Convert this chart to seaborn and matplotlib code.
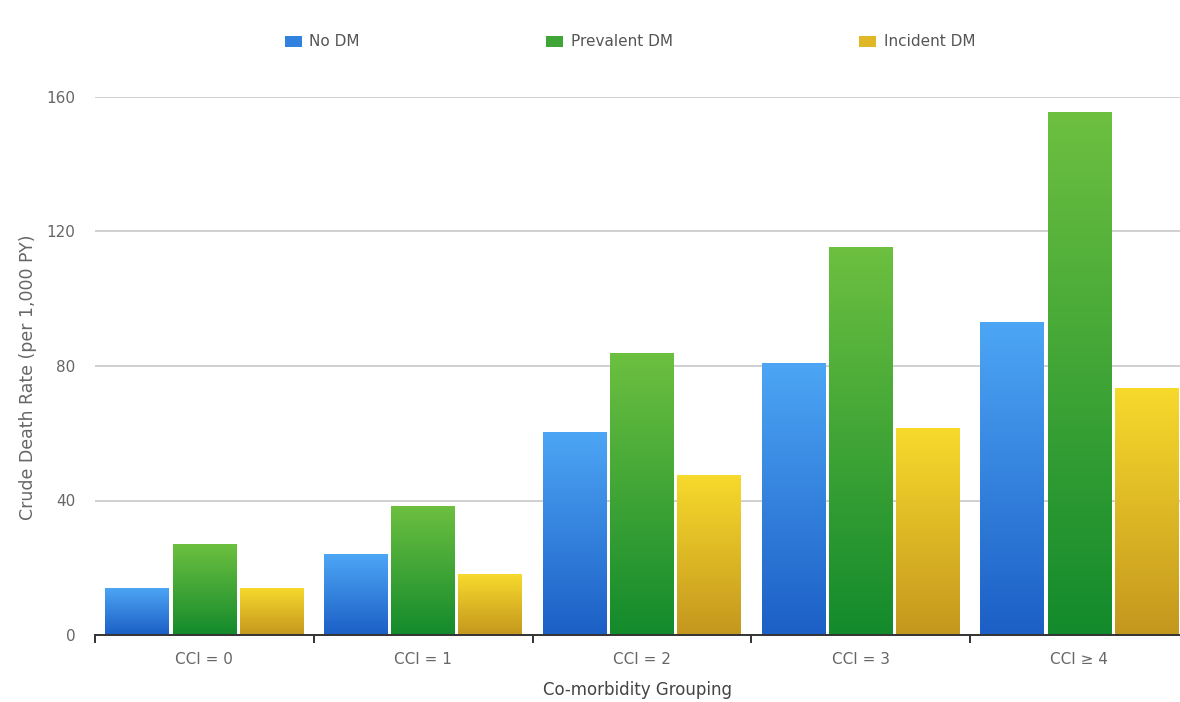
import numpy as np
import pandas as pd
import matplotlib
matplotlib.use("Agg")
import matplotlib.pyplot as plt
from matplotlib.colors import LinearSegmentedColormap
import seaborn as sns

# Crude death rate per 1,000 person-years by co-morbidity group
groups = ["CCI = 0", "CCI = 1", "CCI = 2", "CCI = 3", "CCI \u2265 4"]
series = ["No DM", "Prevalent DM", "Incident DM"]
no_dm = [14, 24, 60.5, 81, 93]
prevalent_dm = [27, 38.5, 84, 115.5, 155.5]
incident_dm = [14, 18, 47.5, 61.5, 73.5]
y_ticks = [0, 40, 80, 120, 160]

# top (light) / bottom (dark) colours of each series' gradient
top_colors = ["#4da6f5", "#6dc040", "#f7da2c"]
bottom_colors = ["#1c5fc6", "#138a2c", "#c4971e"]
mid_colors = ["#3182de", "#3fa536", "#e0b826"]

df = pd.DataFrame({
    "group": np.repeat(groups, len(series)),
    "series": series * len(groups),
    "rate": [v for trio in zip(no_dm, prevalent_dm, incident_dm) for v in trio],
})

sns.set_theme(style="white")
plt.rcParams["font.family"] = ["DejaVu Sans"]

W, H = 1180, 702
fig = plt.figure(figsize=(W / 100, H / 100), dpi=100)
ax = fig.add_axes([95 / W, 1 - 635 / H, 1 - 95 / W, (635 - 97) / H])

sns.barplot(data=df, x="group", y="rate", hue="series", order=groups,
            hue_order=series, palette=mid_colors, width=0.92, gap=0.05,
            saturation=1, ax=ax, legend=True)

xlim = (-0.5, -0.5 + 1085 / 218.75)

# replace flat fills with vertical gradients
grad = np.linspace(0, 1, 256).reshape(-1, 1)
for i, cont in enumerate(ax.containers):
    cmap = LinearSegmentedColormap.from_list(f"g{i}", [bottom_colors[i], top_colors[i]])
    for bar in cont:
        x, w, h = bar.get_x(), bar.get_width(), bar.get_height()
        bar.set_facecolor("none")
        bar.set_edgecolor("none")
        im = ax.imshow(grad, extent=[x, x + w, 0, h], origin="lower", cmap=cmap,
                       aspect="auto", zorder=2, interpolation="bilinear")
        im.set_clip_path(bar)

ax.set_xlim(*xlim)
ax.set_ylim(0, 160)

# grid and spines
ax.set_yticks(y_ticks)
ax.yaxis.grid(True, color="#c8c8c8", linewidth=1.2, zorder=0)
ax.set_axisbelow(True)
for s in ["top", "right", "left"]:
    ax.spines[s].set_visible(False)
ax.spines["bottom"].set_color("#333333")
ax.spines["bottom"].set_linewidth(1.4)
ax.spines["bottom"].set_zorder(3)

ax.tick_params(axis="y", left=False, length=0, pad=14, labelsize=11,
               labelcolor="#666666")
ax.set_yticklabels([str(t) for t in y_ticks])

# category labels centred, tick marks at group boundaries
ax.set_xticks(np.arange(len(groups)) - 0.5)
ax.set_xticklabels([])
ax.tick_params(axis="x", which="major", bottom=True, length=6, width=1.4,
               color="#333333", direction="out")
ax.set_xticks(np.arange(len(groups)), minor=True)
ax.set_xticklabels(groups, minor=True)
ax.tick_params(axis="x", which="minor", bottom=True, length=0, pad=12,
               labelsize=11, labelcolor="#666666")

ax.set_xlabel("Co-morbidity Grouping", fontsize=12, color="#444444", labelpad=10)
ax.set_ylabel("Crude Death Rate (per 1,000 PY)", fontsize=12.5, color="#666666",
              labelpad=6)
ax.yaxis.set_label_coords(-58 / 1085, 0.48)

# legend across the top
handles, labels = ax.get_legend_handles_labels()
for hdl, c in zip(handles, mid_colors):
    hdl.set_facecolor(c)
    hdl.set_edgecolor("none")
ax.legend(handles, labels, ncol=3, loc="center",
          bbox_to_anchor=(630 / W, (H - 42) / H),
          bbox_transform=fig.transFigure, frameon=False, fontsize=11,
          handlelength=1.1, handleheight=0.75, handletextpad=0.5,
          columnspacing=12.2, labelcolor="#555555")

fig.savefig("out.png", dpi=100, facecolor="white")
